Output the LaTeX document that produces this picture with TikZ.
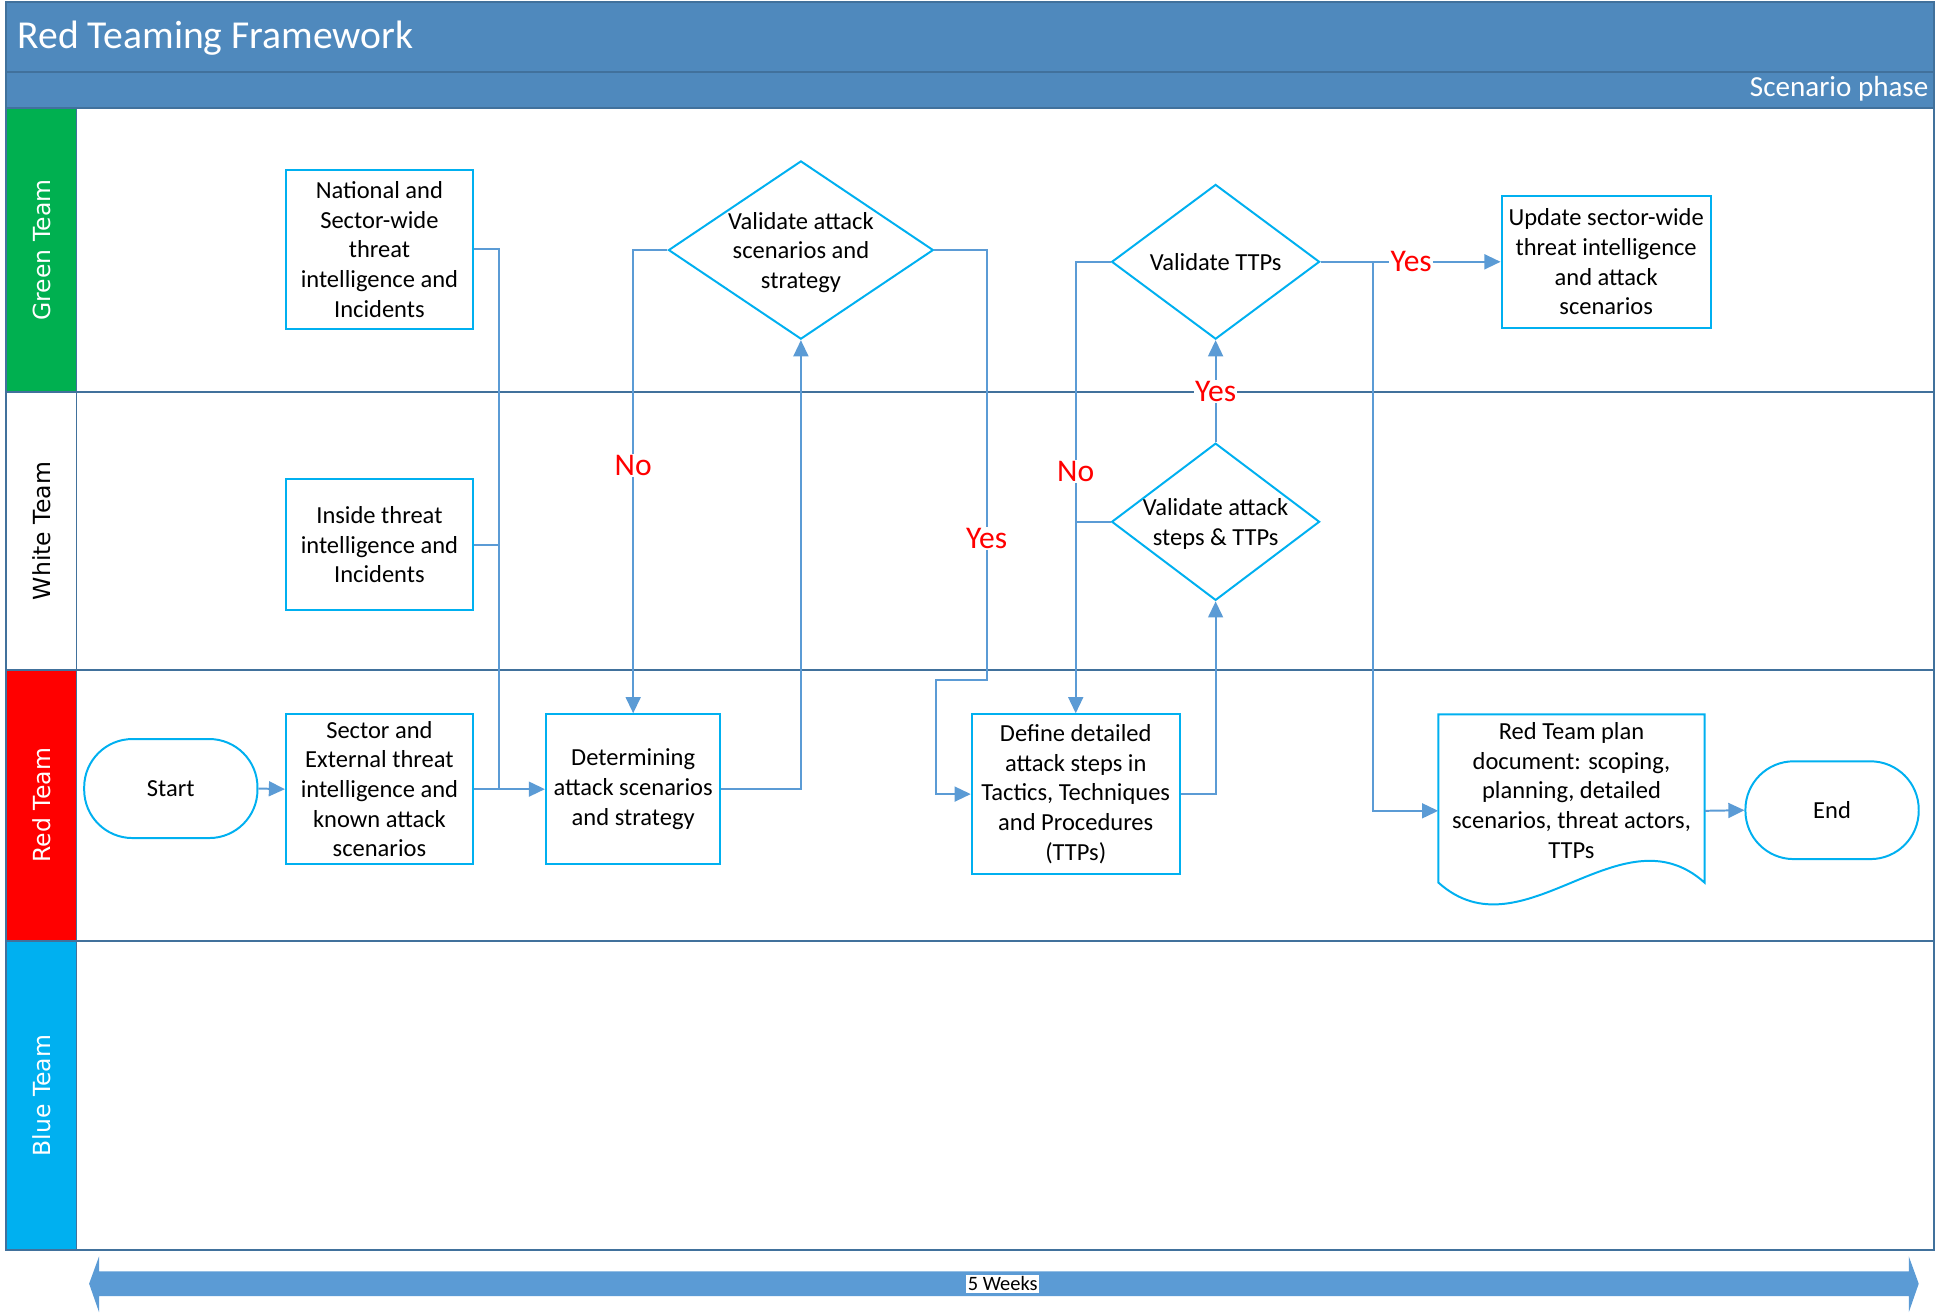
\documentclass[tikz,border=0pt]{standalone}
\usepackage{fontspec}
\setmainfont{Carlito}
\newfontfamily\lanefont{DejaVu Sans}
\usetikzlibrary{shapes.geometric,arrows.meta}

\definecolor{hdrblue}{RGB}{79,137,189}
\definecolor{laneline}{RGB}{65,113,156}
\definecolor{flowline}{RGB}{91,155,213}
\definecolor{shpline}{RGB}{0,176,240}
\definecolor{teamgreen}{RGB}{0,176,80}
\definecolor{teamred}{RGB}{255,0,0}
\definecolor{teamblue}{RGB}{0,176,240}

\tikzset{
  txt/.style={align=center, inner sep=0pt, font=\fontsize{19.8}{24}\selectfont},
  box/.style={txt, draw=shpline, line width=1.6pt, fill=white},
  term/.style={box, rounded corners=39pt},
  decision/.style={shape=diamond, draw=shpline, line width=1.6pt, fill=white, inner sep=0pt},
  shp/.style={draw=shpline, line width=1.6pt, fill=white},
  flow/.style={draw=flowline, line width=1.6pt},
  arr/.style={flow, -{Triangle[length=13pt, width=12pt]}},
  yesno/.style={fill=white, text=teamred, inner sep=1pt, font=\fontsize{25.5}{28}\selectfont}
}

\begin{document}
\begin{tikzpicture}[x=1pt, y=-1pt]
        \def \left {5}
        \def \right {1562}
        \def \col {62}

        \useasboundingbox (0,0) rectangle (1568,1062);

        % header and phase bar
        \fill[hdrblue] (\left,2) rectangle (\right,87);
        \draw[laneline, line width=1.5pt] (\left,58) -- (\right,58);
        \node[anchor=west, text=white, inner sep=0pt, font=\fontsize{32}{36}\selectfont] at (14,31) (title) {Red Teaming Framework};
        \node[anchor=east, text=white, inner sep=0pt, font=\fontsize{23.5}{28}\selectfont] at (1558,72) (phase) {Scenario phase};

        \foreach \lname/\lcol/\ltc/\ltxt/\ltop/\lbot in {green/teamgreen/white/Green Team/87/317, white/white/black/White Team/317/541, red/teamred/white/Red Team/541/760, blue/teamblue/white/Blue Team/760/1010}{
          \fill[\lcol] (\left,\ltop) rectangle (\col,\lbot);
          \node[rotate=90, text=\ltc, inner sep=0pt, font=\lanefont\fontsize{19}{22}\selectfont] at (34,{(\ltop+\lbot)/2}) (lane\lname) {\ltxt};
          \draw[laneline, line width=1.6pt] (\left,\ltop) -- (\right,\ltop);
        }
        \draw[laneline, line width=1.6pt] (\left,2) rectangle (\right,1010);
        \draw[laneline, line width=1.2pt] (\col,87) -- (\col,1010);

        \node[term, minimum width=140pt, minimum height=80pt] at (138,637) (start) {Start};
        \node[box, minimum width=151pt, minimum height=129pt] at (306.5,201.5) (natl) {National and\\Sector-wide\\threat\\intelligence and\\Incidents};
        \node[box, minimum width=151pt, minimum height=106pt] at (306.5,440) (inside) {Inside threat\\intelligence and\\Incidents};
        \node[box, minimum width=151pt, minimum height=121pt] at (306.5,637.5) (sector) {Sector and\\External threat\\intelligence and\\known attack\\scenarios};
        \node[box, minimum width=141pt, minimum height=121pt] at (511.5,637.5) (determ) {Determining\\attack scenarios\\and strategy};
        \node[decision, minimum width=214pt, minimum height=144pt] at (647,202) (valscen) {};
        \node[txt, yshift=-2pt] at (valscen) (valscentxt) {Validate attack\\scenarios and\\strategy};
        \node[box, minimum width=168pt, minimum height=129pt] at (869,641.5) (define) {Define detailed\\attack steps in\\Tactics, Techniques\\and Procedures\\(TTPs)};
        \node[decision, minimum width=168pt, minimum height=127pt] at (982,421.5) (valsteps) {};
        \node[txt, yshift=-2pt] at (valsteps) (valstepstxt) {Validate attack\\steps \& TTPs};
        \node[decision, minimum width=168pt, minimum height=125pt] at (982,211.5) (valttp) {};
        \node[txt] at (valttp) (valttptxt) {Validate TTPs};
        \node[box, minimum width=169pt, minimum height=107pt] at (1297.5,211.5) (update) {Update sector-wide\\threat intelligence\\and attack\\scenarios};
        \node[inner sep=0pt, minimum width=215pt, minimum height=156pt] at (1269.5,655) (plan) {};
        \draw[shp] (1162,577) -- (1377,577) -- (1377,713) .. controls (1309,652) and (1230,774) .. (1162,713) -- cycle;
        \node[txt] at ([yshift=16.5pt]plan.center) (plantxt) {Red Team plan\\document: scoping,\\planning, detailed\\scenarios, threat actors,\\TTPs};
        \node[term, minimum width=140pt, minimum height=79pt] at (1480,654.5) (end) {End};

        \coordinate (joinA) at (403,637.5);
        \draw[flow] (natl.east) -| (joinA);
        \draw[flow] (inside.east) -| (joinA);
        \draw[arr] (start.east) -- (sector.west);
        \draw[arr] (sector.east) -- (determ.west);
        \draw[arr] (determ.east) -| (valscen.south);
        \draw[arr] (valscen.west) -| (determ.north);
        \draw[arr] (valscen.east) -| (797,549) -| ([xshift=-28pt]define.west) -- (define.west);
        \draw[arr] (define.east) -| (valsteps.south);
        \draw[arr] (valsteps.north) -- (valttp.south);
        \draw[arr] (valttp.west) -| (define.north);
        \draw[flow] (valsteps.west) -- (valsteps.west -| define.north);
        \draw[arr] (valttp.east) -- (update.west);
        \draw[arr] ([xshift=42pt]valttp.east) |- (plan.west);
        \draw[arr] (plan.east) -- (end.west);

        \node[yesno] at (511.5,376) (no1) {No};
        \node[yesno] at (797,435) (yes1) {Yes};
        \node[yesno] at (982,316) (yes2) {Yes};
        \node[yesno] at (869,381) (no2) {No};
        \node[yesno] at (1140,211) (yes3) {Yes};

        % time line
        \fill[flowline] (72,1037) -- (80,1015) -- (80,1027) -- (1542,1027) -- (1542,1015) -- (1550,1037) -- (1542,1060) -- (1542,1047) -- (80,1047) -- (80,1060) -- cycle;
        \node[fill=white, inner sep=1.5pt, font=\fontsize{16.5}{19}\selectfont] at (810,1037) (weeks) {5 Weeks};
\end{tikzpicture}
\end{document}
